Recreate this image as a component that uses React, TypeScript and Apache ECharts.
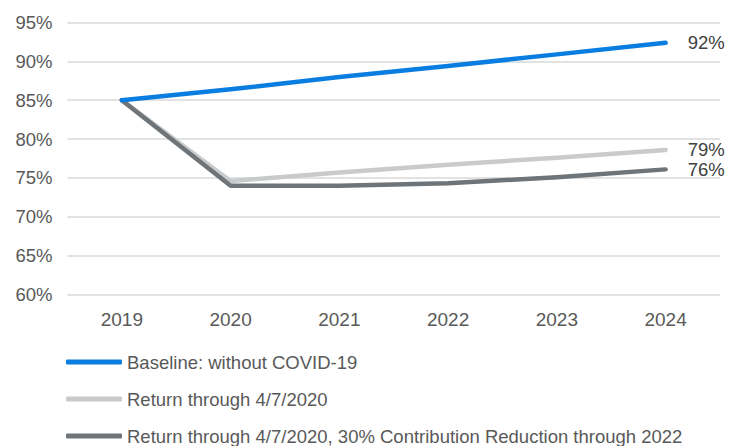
import React, { useEffect, useRef } from "react";
import * as echarts from "echarts";

const years = ["2019", "2020", "2021", "2022", "2023", "2024"];
const baseline = [85.0, 86.4, 88.0, 89.4, 90.9, 92.4];
const returnThrough = [85.0, 74.6, 75.7, 76.7, 77.6, 78.6];
const reduction = [85.0, 74.0, 74.0, 74.3, 75.1, 76.1];
const endLabels = ["92%", "79%", "76%"];
const seriesNames = [
  "Baseline: without COVID-19",
  "Return through 4/7/2020",
  "Return through 4/7/2020, 30% Contribution Reduction through 2022",
];
const colors = ["#0a7ee0", "#c8cacb", "#6e7478"];

export default function App() {
  const ref = useRef<HTMLDivElement>(null);
  useEffect(() => {
    document.body.style.margin = "0";
    const chart = echarts.init(ref.current!, null, { renderer: "svg" });
    const font = "'Liberation Sans', Arial, sans-serif";
    const dataSets = [baseline, returnThrough, reduction];
    const legendCenters = [362, 399, 436];
    chart.setOption({
      animation: false,
      grid: { left: 67.5, right: 17, top: 22.5, bottom: 151.5 },
      xAxis: {
        type: "category",
        data: years,
        boundaryGap: true,
        axisLine: { show: false },
        axisTick: { show: false },
        axisLabel: { color: "#595959", fontSize: 19, fontFamily: font, margin: 15 },
      },
      yAxis: {
        type: "value",
        min: 60,
        max: 95,
        interval: 5,
        axisLabel: {
          formatter: "{value}%",
          color: "#595959",
          fontSize: 18.5,
          fontFamily: font,
          margin: 15,
        },
        splitLine: { lineStyle: { color: "#d9d9d9", width: 1.5 } },
      },
      legend: seriesNames.map((n, i) => ({
        data: [n],
        orient: "horizontal",
        left: 61,
        top: legendCenters[i] - 15,
        padding: 5,
        icon: "roundRect",
        itemWidth: 56,
        itemHeight: 5,
        itemGap: 5,
        selectedMode: false,
        textStyle: { color: "#595959", fontSize: 18.5, fontFamily: font, lineHeight: 20 },
      })),
      series: [2, 1, 0].map((idx) => ({
        name: seriesNames[idx],
        type: "line",
        data: dataSets[idx],
        symbol: "none",
        z: idx === 0 ? 4 : idx === 2 ? 3 : 2,
        color: colors[idx],
        lineStyle: { color: colors[idx], width: 4.5, cap: "round", join: "round" },
        itemStyle: { color: colors[idx] },
        endLabel: {
          show: true,
          formatter: endLabels[idx],
          distance: 22,
          color: "#404040",
          fontSize: 18.5,
          fontFamily: font,
        },
      })),
    });
    return () => chart.dispose();
  }, []);
  return <div ref={ref} style={{ width: 737, height: 446 }} />;
}
